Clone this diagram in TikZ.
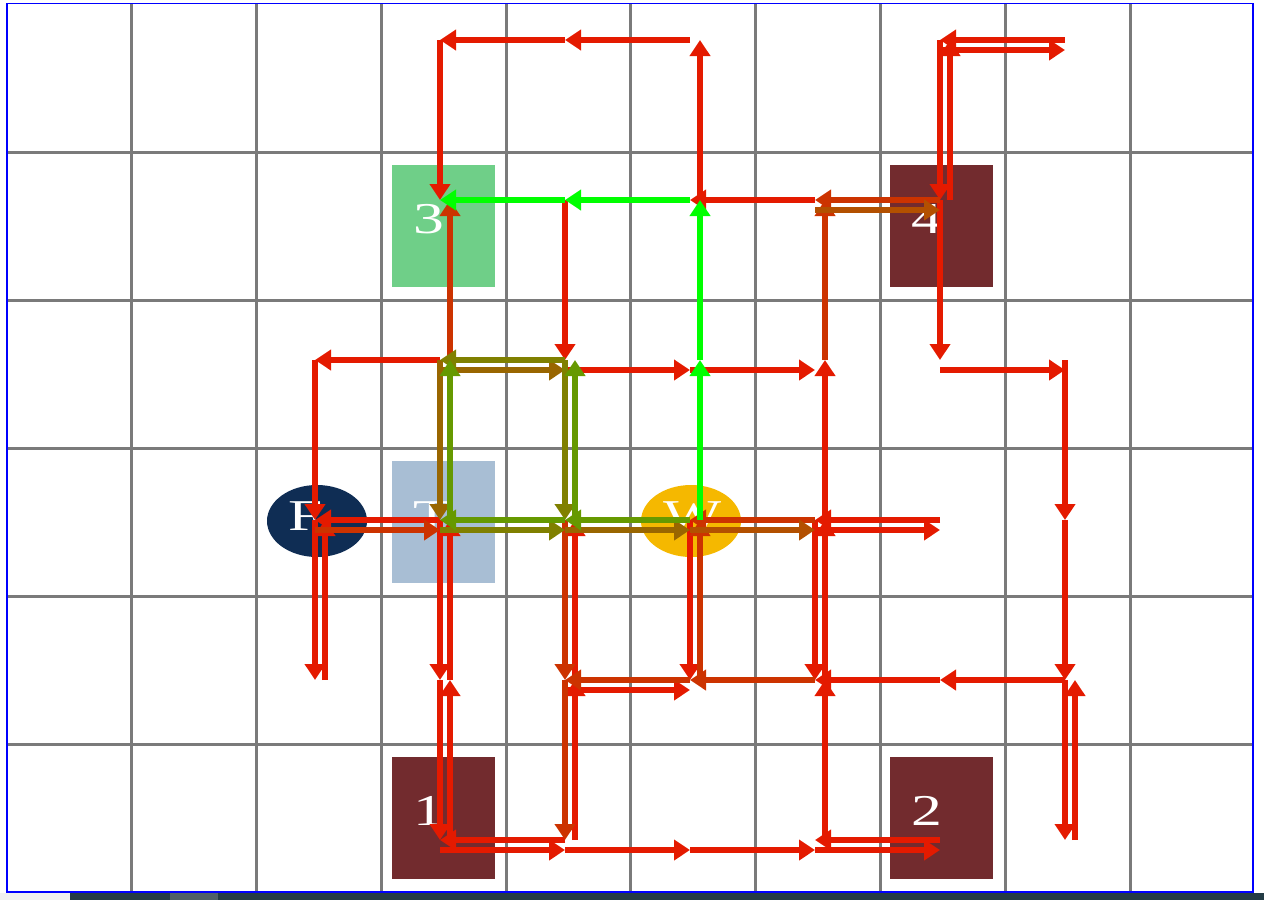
\documentclass[tikz,border=0pt]{standalone}
\usepackage{fontspec}
\setmainfont{Liberation Serif}
\usetikzlibrary{arrows.meta,shapes.geometric}
\definecolor{pRed}{HTML}{E41A00}
\definecolor{pRust}{HTML}{CC3300}
\definecolor{pBrown}{HTML}{B35000}
\definecolor{pOchre}{HTML}{996600}
\definecolor{pOlive}{HTML}{808000}
\definecolor{pMoss}{HTML}{669900}
\definecolor{pLime}{HTML}{00FF00}
\definecolor{boxRed}{HTML}{722B2E}
\definecolor{boxGreen}{HTML}{6FCF88}
\definecolor{boxBlue}{HTML}{A8BED4}
\definecolor{ovNavy}{HTML}{0F2D54}
\definecolor{ovGold}{HTML}{F5B800}
\definecolor{barDark}{HTML}{243B45}
\definecolor{barThumb}{HTML}{4F6068}
\begin{document}
\begin{tikzpicture}[x=0.5pt,y=-0.5pt]
  \tikzstyle{gridline}=[draw=black!52,line width=1.5pt]
  \tikzstyle{cell}=[rectangle,minimum width=51.5pt,minimum height=61pt,inner sep=0pt]
  \tikzstyle{oval}=[ellipse,minimum width=50pt,minimum height=36pt,inner sep=0pt]
  \tikzstyle{tag}=[text=white,anchor=base west,inner sep=0pt,font=\fontsize{22}{22}\selectfont]
  \tikzstyle{mv}=[line width=2.8pt,-{Triangle[width=10pt,length=8pt]}]
  \tikzstyle{rgt}=[transform canvas={yshift=-5pt}]
  \tikzstyle{upw}=[transform canvas={xshift=5pt}]
  \useasboundingbox (0,0) rectangle (1264,900);

  \fill[black!6] (0,893) rectangle (70,900);
  \fill[barDark] (70,893) rectangle (1264,900);
  \fill[barThumb] (170,893) rectangle (218,900);

  \draw[gridline] (131,4) -- (131,892) (256,4) -- (256,892) (381,4) -- (381,892)
    (506,4) -- (506,892) (630,4) -- (630,892) (755,4) -- (755,892)
    (880,4) -- (880,892) (1005,4) -- (1005,892) (1130,4) -- (1130,892);
  \draw[gridline] (8,152) -- (1253,152) (8,300) -- (1253,300) (8,448) -- (1253,448)
    (8,596) -- (1253,596) (8,744) -- (1253,744);
  \draw[blue,line width=0.6pt] (7,3.5) rectangle (1253,892);

  \node[cell,fill=boxGreen] (B_3) at (443,226) {};
  \node[cell,fill=boxRed] (B_4) at (941,226) {};
  \node[cell,fill=boxBlue] (B_T) at (443,522) {};
  \node[cell,fill=boxRed] (B_1) at (443,818) {};
  \node[cell,fill=boxRed] (B_2) at (941,818) {};
  \node[oval,fill=ovNavy] (B_F) at (317,521) {};
  \node[oval,fill=ovGold] (B_W) at (691,521) {};

  \node[tag] (L_3) at (413,233) {\scalebox{1.4}[1]{3}};
  \node[tag] (L_4) at (911,233) {\scalebox{1.4}[1]{4}};
  \node[tag] (L_T) at (413,530) {\scalebox{1.4}[1]{T}};
  \node[tag] (L_1) at (413,825) {\scalebox{1.4}[1]{1}};
  \node[tag] (L_2) at (911,825) {\scalebox{1.4}[1]{2}};
  \node[tag] (L_F) at (288,530) {\scalebox{1.4}[1]{F}};
  \node[tag] (L_W) at (663,530) {\scalebox{1.4}[1]{W}};

  \foreach \c in {2,...,8}
    \foreach \r in {0,...,5}
      \coordinate (p_\c_\r) at ({65+125*\c},{40+160*\r});

  \draw[mv,pRed] (p_5_0) -- (p_4_0);
  \draw[mv,pRed] (p_4_0) -- (p_3_0);
  \draw[mv,pRed] (p_8_0) -- (p_7_0);
  \draw[mv,pRed] (p_6_1) -- (p_5_1);
  \draw[mv,pRed] (p_3_2) -- (p_2_2);
  \draw[mv,pRed] (p_3_3) -- (p_2_3);
  \draw[mv,pRed] (p_7_3) -- (p_6_3);
  \draw[mv,pRed] (p_8_4) -- (p_7_4);
  \draw[mv,pRed] (p_7_4) -- (p_6_4);
  \draw[mv,pRed] (p_4_5) -- (p_3_5);
  \draw[mv,pRed] (p_7_5) -- (p_6_5);
  \draw[mv,pRed,rgt] (p_7_0) -- (p_8_0);
  \draw[mv,pRed,rgt] (p_4_2) -- (p_5_2);
  \draw[mv,pRed,rgt] (p_5_2) -- (p_6_2);
  \draw[mv,pRed,rgt] (p_7_2) -- (p_8_2);
  \draw[mv,pRed,rgt] (p_6_3) -- (p_7_3);
  \draw[mv,pRed,rgt] (p_4_4) -- (p_5_4);
  \draw[mv,pRed,rgt] (p_3_5) -- (p_4_5);
  \draw[mv,pRed,rgt] (p_4_5) -- (p_5_5);
  \draw[mv,pRed,rgt] (p_5_5) -- (p_6_5);
  \draw[mv,pRed,rgt] (p_6_5) -- (p_7_5);
  \draw[mv,pRed] (p_3_0) -- (p_3_1);
  \draw[mv,pRed] (p_7_0) -- (p_7_1);
  \draw[mv,pRed] (p_7_1) -- (p_7_2);
  \draw[mv,pRed] (p_4_1) -- (p_4_2);
  \draw[mv,pRed] (p_2_2) -- (p_2_3);
  \draw[mv,pRed] (p_2_3) -- (p_2_4);
  \draw[mv,pRed] (p_3_3) -- (p_3_4);
  \draw[mv,pRed] (p_3_4) -- (p_3_5);
  \draw[mv,pRed] (p_5_3) -- (p_5_4);
  \draw[mv,pRed] (p_6_3) -- (p_6_4);
  \draw[mv,pRed] (p_8_2) -- (p_8_3);
  \draw[mv,pRed] (p_8_3) -- (p_8_4);
  \draw[mv,pRed] (p_8_4) -- (p_8_5);
  \draw[mv,pRed,upw] (p_5_1) -- (p_5_0);
  \draw[mv,pRed,upw] (p_7_1) -- (p_7_0);
  \draw[mv,pRed,upw] (p_2_4) -- (p_2_3);
  \draw[mv,pRed,upw] (p_3_5) -- (p_3_4);
  \draw[mv,pRed,upw] (p_3_4) -- (p_3_3);
  \draw[mv,pRed,upw] (p_4_5) -- (p_4_4);
  \draw[mv,pRed,upw] (p_4_4) -- (p_4_3);
  \draw[mv,pRed,upw] (p_6_4) -- (p_6_3);
  \draw[mv,pRed,upw] (p_6_3) -- (p_6_2);
  \draw[mv,pRed,upw] (p_6_5) -- (p_6_4);
  \draw[mv,pRed,upw] (p_8_5) -- (p_8_4);

  \draw[mv,pRust] (p_7_1) -- (p_6_1);
  \draw[mv,pRust,upw] (p_6_2) -- (p_6_1);
  \draw[mv,pRust,upw] (p_3_2) -- (p_3_1);
  \draw[mv,pRust,rgt] (p_2_3) -- (p_3_3);
  \draw[mv,pRust] (p_6_3) -- (p_5_3);
  \draw[mv,pRust] (p_4_3) -- (p_4_4);
  \draw[mv,pRust] (p_4_4) -- (p_4_5);
  \draw[mv,pRust,upw] (p_5_4) -- (p_5_3);
  \draw[mv,pRust] (p_6_4) -- (p_5_4);
  \draw[mv,pRust] (p_5_4) -- (p_4_4);

  \draw[mv,pBrown,rgt] (p_6_1) -- (p_7_1);
  \draw[mv,pBrown,rgt] (p_5_3) -- (p_6_3);
  \draw[mv,pOchre,rgt] (p_4_3) -- (p_5_3);
  \draw[mv,pOchre] (p_3_2) -- (p_3_3);
  \draw[mv,pOchre,rgt] (p_3_2) -- (p_4_2);
  \draw[mv,pOlive,rgt] (p_3_3) -- (p_4_3);
  \draw[mv,pOlive] (p_4_2) -- (p_3_2);
  \draw[mv,pOlive] (p_4_2) -- (p_4_3);
  \draw[mv,pMoss,upw] (p_3_3) -- (p_3_2);
  \draw[mv,pMoss,upw] (p_4_3) -- (p_4_2);
  \draw[mv,pMoss] (p_5_3) -- (p_4_3);
  \draw[mv,pMoss] (p_4_3) -- (p_3_3);

  \draw[mv,pLime,upw] (p_5_3) -- (p_5_2);
  \draw[mv,pLime,upw] (p_5_2) -- (p_5_1);
  \draw[mv,pLime] (p_5_1) -- (p_4_1);
  \draw[mv,pLime] (p_4_1) -- (p_3_1);
\end{tikzpicture}
\end{document}
